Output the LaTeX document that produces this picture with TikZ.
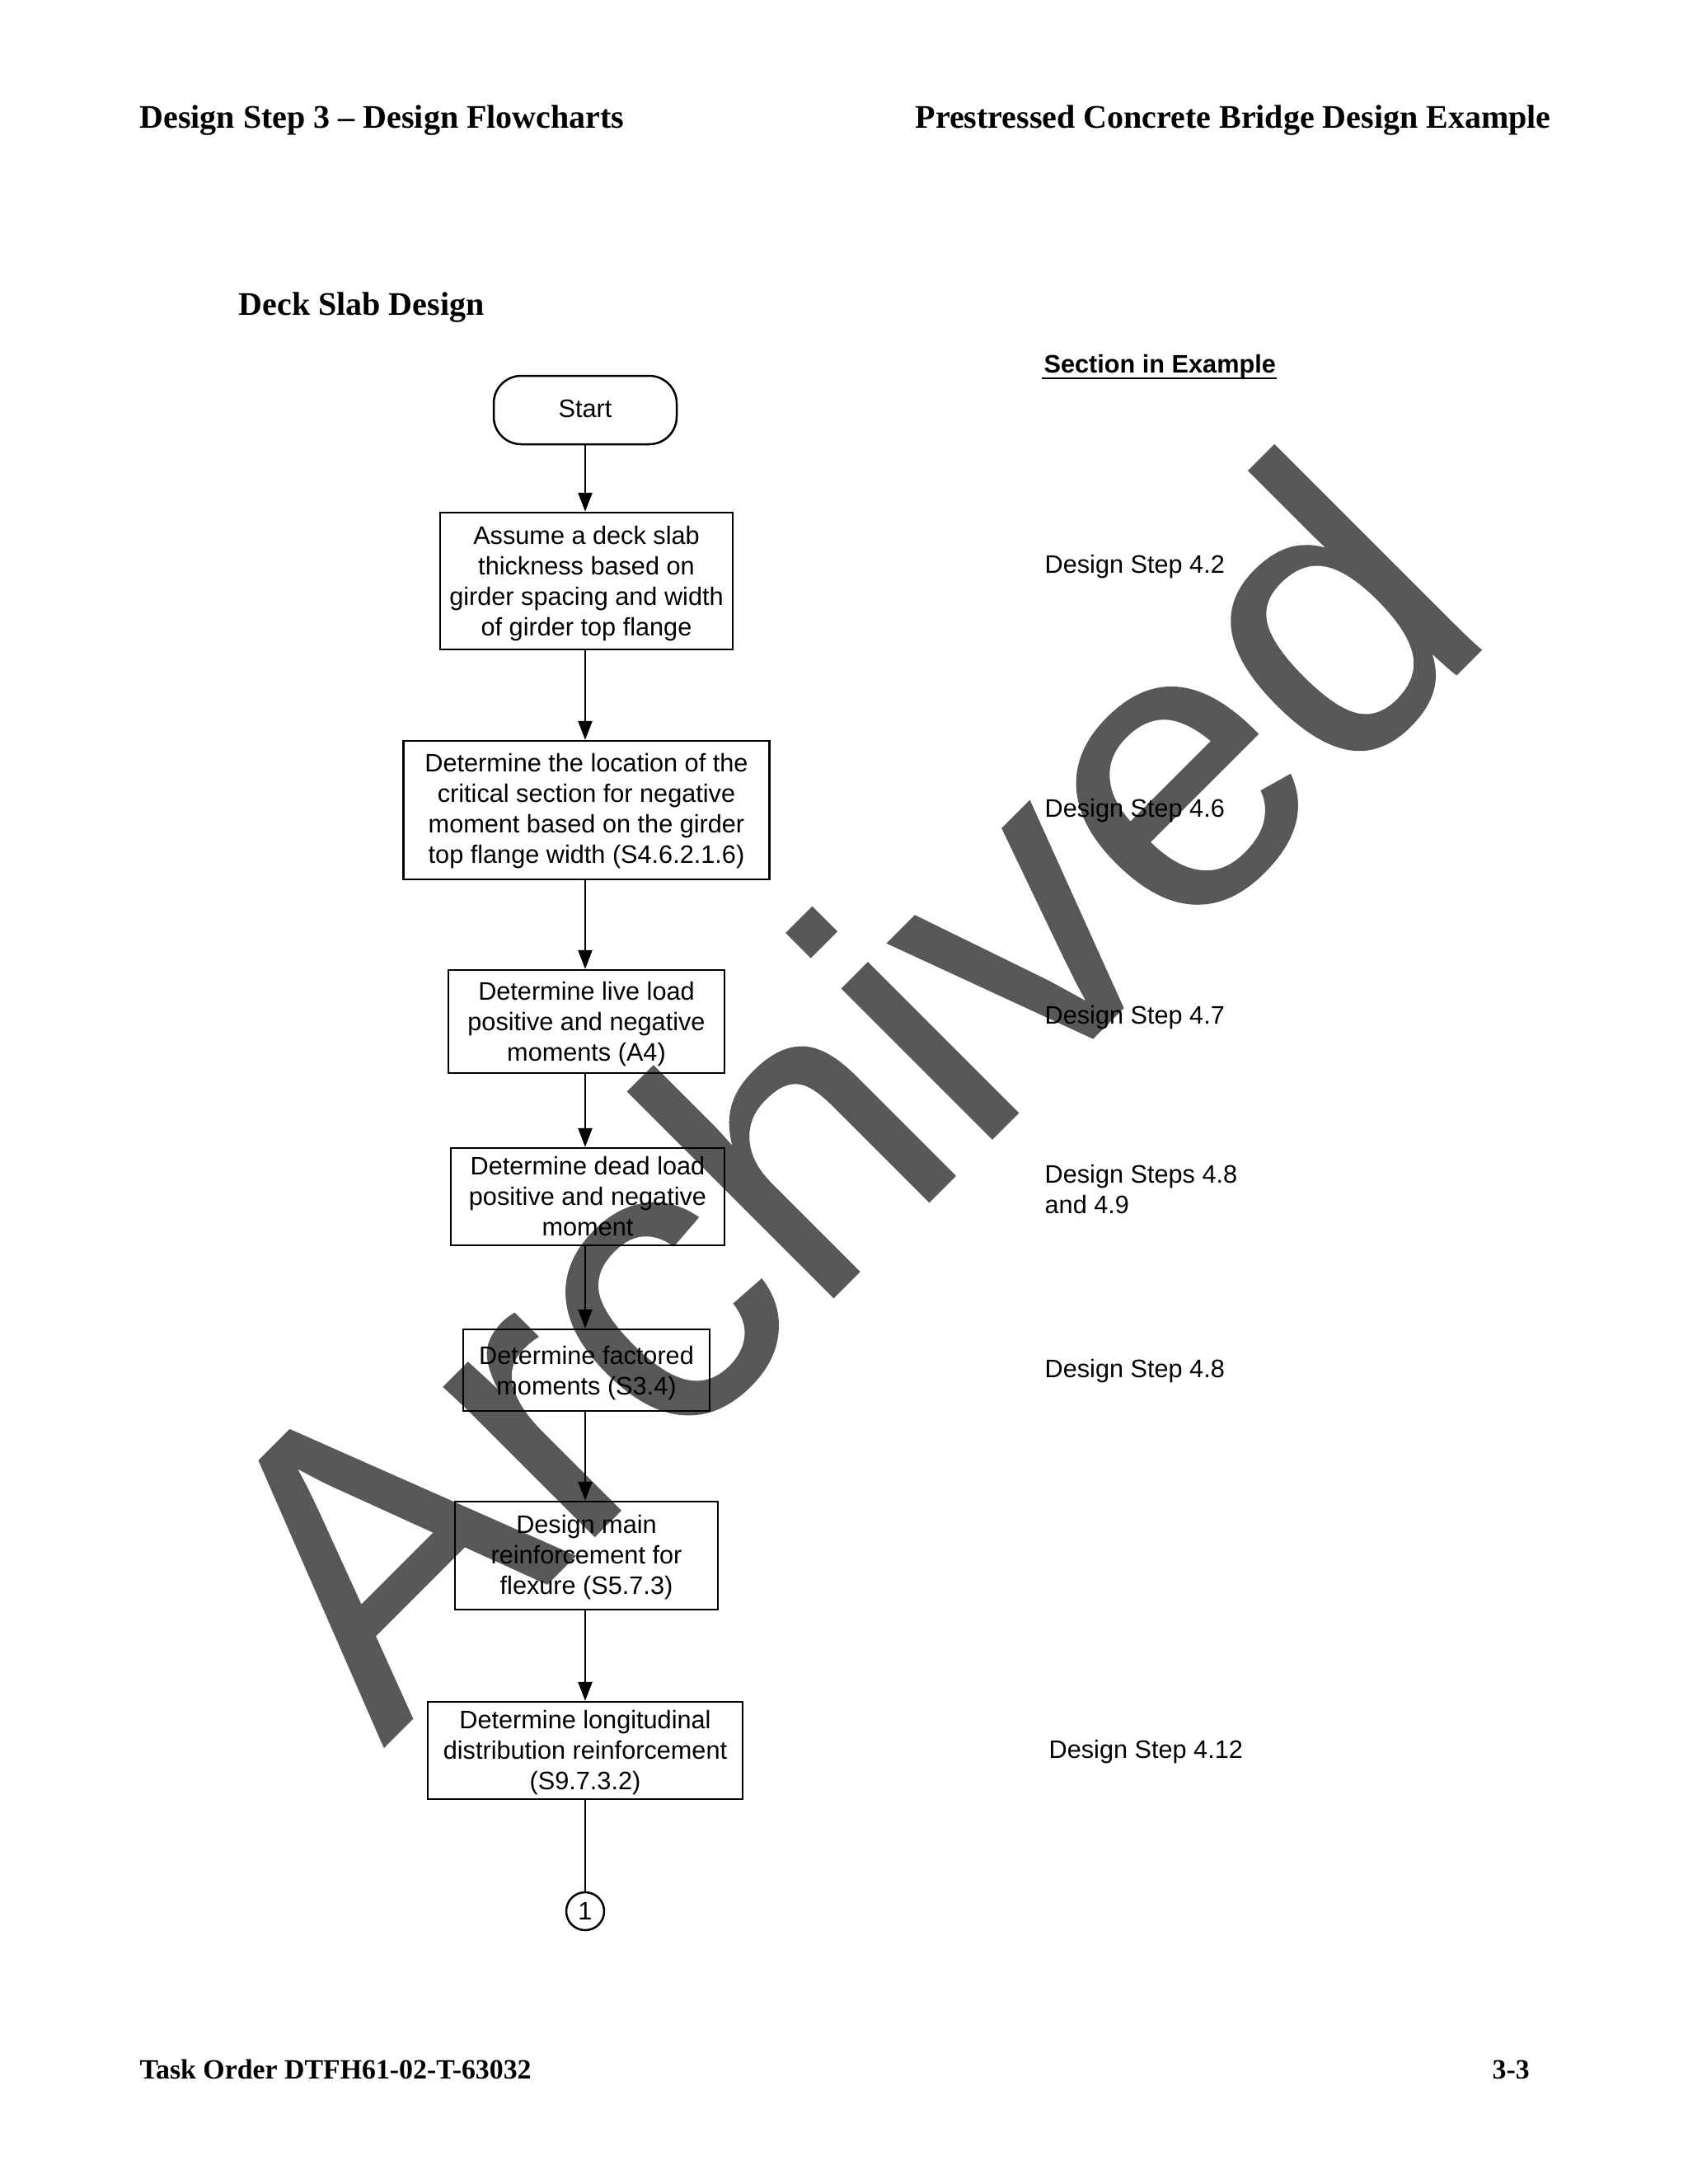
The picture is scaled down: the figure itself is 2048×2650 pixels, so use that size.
\documentclass[tikz,border=0pt]{standalone}
\usepackage{fontspec}
\usepackage{graphicx}
\setmainfont{Liberation Sans}
\newfontfamily\hdrfont{Liberation Serif}[BoldFont={Liberation Serif Bold}]
\newfontfamily\wmfont{Liberation Sans}[FakeBold=0.5]
\usetikzlibrary{arrows.meta}
\definecolor{wmgray}{HTML}{585858}
\newcommand{\lblfont}{\fontsize{9.2}{11.1}\selectfont}
\newcommand{\tp}[1]{\rule{0pt}{#1pt}}
\tikzset{
  x=0.3pt,y=-0.3pt,
  flowline/.style={line width=0.75pt,black},
  arr/.style={flowline,-{Triangle[length=6.9pt,width=5.1pt]}},
  stepbox/.style={draw=black,line width=0.75pt,align=center,inner sep=0pt,font=\lblfont},
  termbox/.style={stepbox,rounded corners=10pt},
  lab/.style={anchor=base west,inner sep=0pt,align=left,font=\lblfont},
  hdr/.style={anchor=base west,inner sep=0pt,font=\hdrfont\bfseries\fontsize{12}{14}\selectfont},
  ftr/.style={anchor=base west,inner sep=0pt,font=\hdrfont\bfseries\fontsize{10.15}{12}\selectfont},
  wm/.style={anchor=base west,inner sep=0pt,rotate=45,text=wmgray,font=\wmfont\fontsize{147.6}{150}\selectfont}
}
\begin{document}
\begin{tikzpicture}
\useasboundingbox (0,0) rectangle (2048,2650);
\fill[white] (0,0) rectangle (2048,2650);
\node[wm] (mark) at (465,2120) {\scalebox{1}[1.04]{A}\scalebox{1}[0.988]{rchived}};
\node[hdr] (h1) at (169,155) {Design Step 3 – Design Flowcharts};
\node[hdr] (h2) at (1110,155) {Prestressed Concrete Bridge Design Example};
\node[hdr] (h3) at (289,382) {Deck Slab Design};
\node[ftr] (f1) at (169,2522) {Task Order DTFH61-02-T-63032};
\node[ftr] (f2) at (1810,2522) {3-3};
\coordinate (axis) at (710,0);
\node[termbox,minimum width=66.6pt,minimum height=24.9pt] (start) at (710,497.5) {\rule[-1pt]{0pt}{0pt}Start};
\node[stepbox,minimum width=106.5pt,minimum height=49.8pt] (b1) at (711.5,705)
  {\tp{8.5}Assume a deck slab\\thickness based on\\girder spacing and width\\of girder top flange};
\node[stepbox,minimum width=133.2pt,minimum height=50.4pt] (b2) at (711.5,983)
  {\tp{7.3}Determine the location of the\\critical section for negative\\moment based on the girder\\top flange width (S4.6.2.1.6)};
\node[stepbox,minimum width=100.5pt,minimum height=37.5pt] (b3) at (711.5,1239.5)
  {\tp{8.5}Determine live load\\positive and negative\\moments (A4)};
\node[stepbox,minimum width=99.6pt,minimum height=35.4pt] (b4) at (713,1452)
  {Determine dead load\\positive and negative\\moment};
\node[stepbox,minimum width=89.7pt,minimum height=29.7pt] (b5) at (711.5,1662.5)
  {\tp{8.5}Determine factored\\moments (S3.4)};
\node[stepbox,minimum width=95.7pt,minimum height=39.3pt] (b6) at (711.5,1887.5)
  {\tp{8}Design main\\reinforcement for\\flexure (S5.7.3)};
\node[stepbox,minimum width=114.6pt,minimum height=35.4pt] (b7) at (710,2124)
  {\tp{8}Determine longitudinal\\distribution reinforcement\\(S9.7.3.2)};
\node[draw=black,line width=0.75pt,circle,minimum size=13.8pt,inner sep=0pt,font=\lblfont] (conn) at (710,2319) {1};
\draw[arr] (start.south -| axis) -- (b1.north -| axis);
\draw[arr] (b1.south -| axis) -- (b2.north -| axis);
\draw[arr] (b2.south -| axis) -- (b3.north -| axis);
\draw[arr] (b3.south -| axis) -- (b4.north -| axis);
\draw[arr] (b4.south -| axis) -- (b5.north -| axis);
\draw[arr] (b5.south -| axis) -- (b6.north -| axis);
\draw[arr] (b6.south -| axis) -- (b7.north -| axis);
\draw[flowline] (b7.south -| axis) -- (conn.north);
\node[lab,font=\bfseries\lblfont] (sec) at (1266,452) {Section in Example};
\draw[line width=0.65pt] ([shift={(-2,7)}]sec.base west) -- ([shift={(0,7)}]sec.base east);
\node[lab] (s1) at (1267,695) {Design Step 4.2};
\node[lab] (s2) at (1267,991) {Design Step 4.6};
\node[lab] (s3) at (1267,1242) {Design Step 4.7};
\node[lab] (s4) at (1267,1472) {Design Steps 4.8\\and 4.9};
\node[lab] (s5) at (1267,1671) {Design Step 4.8};
\node[lab] (s6) at (1272,2133) {Design Step 4.12};
\end{tikzpicture}
\end{document}
